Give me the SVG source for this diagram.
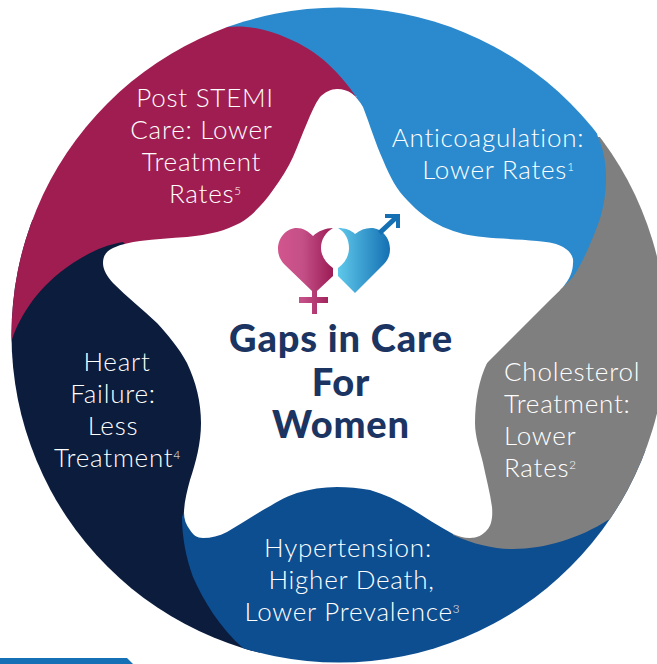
<svg xmlns="http://www.w3.org/2000/svg" width="657" height="664" viewBox="0 0 657 664">
<style>
.t{font-family:Lato,"Liberation Sans",sans-serif;font-weight:300;font-size:26px;letter-spacing:.75px;fill:#fff;text-anchor:middle}
.l{text-anchor:start}
.s{font-size:11.5px;letter-spacing:0}
.h{font-family:Lato,"Liberation Sans",sans-serif;font-weight:900;font-size:38px;fill:#1b3461;text-anchor:middle;letter-spacing:.85px}
</style>
<defs>
<clipPath id="c"><circle cx="339" cy="335" r="327.5"/></clipPath>
<linearGradient id="p" x1="0" x2="1" y1="0" y2="0"><stop offset="0" stop-color="#d2558e"/><stop offset=".45" stop-color="#c44f87"/><stop offset="1" stop-color="#9c1c55"/></linearGradient>
<linearGradient id="b" x1="0" x2="1" y1="0" y2="0"><stop offset="0" stop-color="#5fc8ea"/><stop offset="1" stop-color="#1470b3"/></linearGradient>
</defs>
<rect width="657" height="664" fill="#fff"/>
<path d="M0 658H127L133 664H0Z" fill="#1570b5"/>
<g id="connectors"/>
<g clip-path="url(#c)">
<g id="node-heart-failure"><path d="M0 220H260V680H0Z" fill="#0b1c3d"/></g>
<g id="node-hypertension"><path d="M182 517C182 537 186 558 193 577C203 600 220 628 243 648L300 680H680V450H400L186 505Z" fill="#0d4e91"/></g>
<g id="node-cholesterol"><path d="M598 137L680 137V500L608 520C580 538 545 549 513 549C495 549 475 545 453 535L450 400L560 290Z" fill="#7f7f7f"/></g>
<g id="node-anticoagulation"><path d="M227 27V0H560L598 137C604 150 606 165 606 177C606 195 603 212 597 227C590 245 583 262 573 277L563 287L400 260L340 100L357 97Z" fill="#2a8acd"/></g>
<g id="node-post-stemi"><path d="M227 27C247 25 267 29 287 38C302 44 316 53 327 63C340 75 353 90 362 107L300 260H140L123 242C105 245 90 252 73 263C55 275 43 287 33 300C23 314 15 328 11 343L-10 343V0H227Z" fill="#9f1d50"/></g>
</g>
<g id="node-center">
<path d="M337 89C349 89 356 95 363 107C370 125 375 142 383 160C390 177 397 190 407 200C418 212 430 221 443 227C457 233 470 236 483 237C500 239 520 239 537 241C550 242 558 244 563 247C570 251 574 257 573 263C573 272 569 280 563 287C557 293 551 299 543 305C532 314 521 321 510 330C502 340 494 350 487 363C479 380 475 400 475 423C475 437 480 450 483 463C486 478 490 492 492 507C493 518 491 526 487 530C483 535 477 538 470 538C463 538 458 536 453 534C438 526 425 517 410 508C397 500 384 494 370 490C359 488 348 487 337 487C323 487 310 489 297 493C284 497 274 504 263 510C251 517 239 525 227 532C219 536 211 538 203 538C197 538 193 535 190 530C186 525 184 519 184 513C184 503 187 491 190 480C196 462 201 443 201 423C201 402 196 382 187 363C179 348 168 335 157 323C142 309 127 297 113 283C107 276 103 270 103 263C103 255 107 251 113 248C122 244 131 242 140 241C155 239 171 238 187 237C198 236 208 234 217 232C225 230 233 226 240 223C252 216 263 204 273 190C281 179 288 168 293 157C298 146 302 134 307 123C311 113 315 104 320 97C325 92 331 89 337 89Z" fill="#fff"/>
</g>
<g id="logo">
<path d="M333 228C326 228 318 231 313 236C308 231 303 228 297 228C286 228 278 238 278 249C278 256 281 261 285 265L312 291V297H299V303H312V314H317V303H328V297H317V291L333 276V268C326 263 321 256 321 248C321 239 326 232 333 228Z" fill="url(#p)"/>
<path d="M338 228C345 228 351 230 355 234C360 230 365 228 371 228C382 228 390 238 390 249C390 255 388 260 384 264L355 293L338 276V268C345 263 349 256 349 248C349 239 345 232 338 228Z" fill="url(#b)"/>
<path d="M378 231L392 218H385V214H400V228H396V221L381 235Z" fill="#1470b3"/>
</g>
<g id="labels">
<text class="h" x="341" y="352">Gaps in Care</text>
<text class="h" x="341" y="396">For</text>
<text class="h" x="341" y="438">Women</text>
<text class="t" x="205" y="107">Post STEMI</text>
<text class="t" x="201.5" y="139">Care: Lower</text>
<text class="t" x="201.5" y="171">Treatment</text>
<text class="t" x="205" y="203">Rates<tspan class="s" dy="-8">5</tspan></text>
<text class="t" x="488" y="147">Anticoagulation:</text>
<text class="t" x="498" y="179">Lower Rates<tspan class="s" dy="-8">1</tspan></text>
<text class="t l" x="504" y="381">Cholesterol</text>
<text class="t l" x="504" y="413">Treatment:</text>
<text class="t l" x="504" y="445">Lower</text>
<text class="t l" x="504" y="477">Rates<tspan class="s" dy="-8">2</tspan></text>
<text class="t" x="348" y="557">Hypertension:</text>
<text class="t" x="351.5" y="589">Higher Death,</text>
<text class="t" x="352" y="621">Lower Prevalence<tspan class="s" dy="-8">3</tspan></text>
<text class="t" x="117" y="371">Heart</text>
<text class="t" x="113" y="403">Failure:</text>
<text class="t" x="113" y="435">Less</text>
<text class="t" x="117" y="467">Treatment<tspan class="s" dy="-8">4</tspan></text>
</g>
</svg>
